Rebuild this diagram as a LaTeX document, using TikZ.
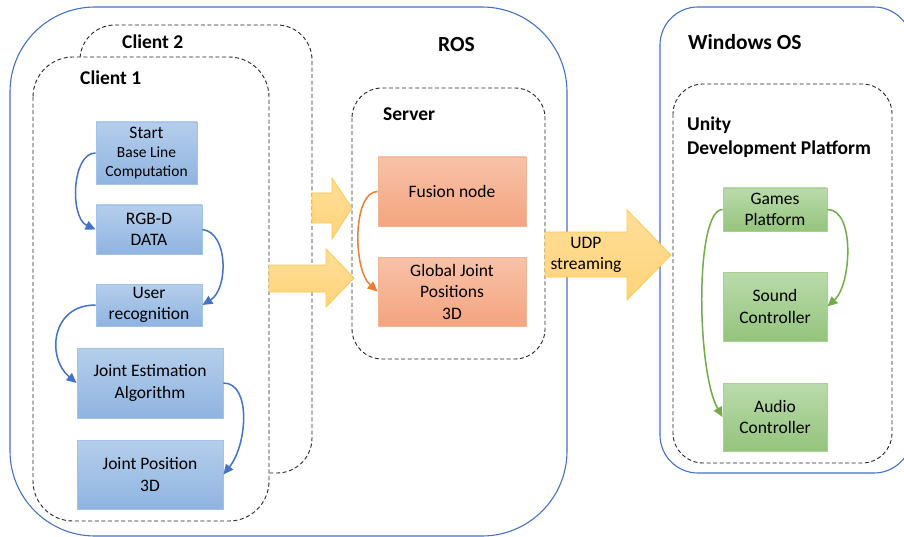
\documentclass[tikz,border=0pt]{standalone}
\usepackage{fontspec}
\setmainfont{Carlito}
\usetikzlibrary{arrows.meta}

\definecolor{frameblue}{HTML}{4472C4}
\definecolor{bluetop}{HTML}{B5CEEC}
\definecolor{bluebot}{HTML}{8FB4E0}
\definecolor{blueedge}{HTML}{A4C2E8}
\definecolor{orangetop}{HTML}{F8C2A9}
\definecolor{orangebot}{HTML}{F4A47F}
\definecolor{orangeedge}{HTML}{F4B595}
\definecolor{orangeline}{HTML}{ED7D31}
\definecolor{greentop}{HTML}{BADBAC}
\definecolor{greenbot}{HTML}{94C47C}
\definecolor{greenedge}{HTML}{A8D08F}
\definecolor{greenline}{HTML}{70AD47}
\definecolor{yellowtop}{HTML}{FFDE98}
\definecolor{yellowbot}{HTML}{FFD47A}
\definecolor{yellowedge}{HTML}{FFC84D}

% smaller type for the sub-lines of the start box
\newcommand\subsize{\fontsize{15.5}{18}\selectfont}

\tikzset{
  txt/.style={font=\fontsize{17.5}{21.5}\selectfont, align=center, inner sep=0pt},
  label/.style={font=\fontsize{19.5}{24}\selectfont\bfseries, anchor=base west, inner sep=0pt},
  biglabel/.style={font=\fontsize{21.5}{26}\selectfont\bfseries, anchor=base west, inner sep=0pt},
  outerbox/.style={draw=frameblue, line width=1.1pt, fill=white},
  groupbox/.style={draw=black!85, line width=0.9pt, dash pattern=on 4pt off 2.6pt, fill=white},
  bluebox/.style={txt, draw=blueedge, line width=0.8pt, top color=bluetop, bottom color=bluebot},
  orangebox/.style={txt, draw=orangeedge, line width=0.8pt, top color=orangetop, bottom color=orangebot},
  greenbox/.style={txt, draw=greenedge, line width=0.8pt, top color=greentop, bottom color=greenbot},
  flow/.style={line width=1.5pt, -{Triangle[length=10pt,width=9pt]}},
  bflow/.style={flow, draw=frameblue},
  oflow/.style={flow, draw=orangeline},
  gflow/.style={flow, draw=greenline},
  blockarrow/.style={draw=yellowedge, line width=0.8pt, top color=yellowtop, bottom color=yellowbot, line join=miter},
}

\begin{document}
\begin{tikzpicture}[x=1pt, y=-1pt]
\useasboundingbox (0,0) rectangle (904,537);

% outer platforms
\draw[outerbox, rounded corners=85pt] (10,7) rectangle (567,536);
\draw[outerbox, rounded corners=38pt] (660,7) rectangle (912,473);
\node[biglabel] (ros) at (438,52) {ROS};
\node[biglabel] (win) at (688,50) {Windows OS};

% client groups (client 2 sits behind client 1)
\draw[groupbox, rounded corners=35pt] (80,25) rectangle (312,473);
\draw[groupbox, rounded corners=40pt] (33,57) rectangle (269,521);
\node[label] (c2) at (122,48.5) {Client 2};
\node[label] (c1) at (80,85) {Client 1};

% server and unity groups
\draw[groupbox, rounded corners=30pt] (352,88) rectangle (545,359);
\node[label] (srv) at (383,121) {Server};
\draw[groupbox, rounded corners=30pt] (673,84) rectangle (892,463);
\node[label, align=left, anchor=north west] (unity) at (687,117) {Unity\\[-0.5pt]Development Platform};

% client pipeline
\node[bluebox, minimum width=101pt, minimum height=62pt] (start) at (146.5,153)
  {Start\\[-2pt]{\subsize Base Line}\\[-3pt]{\subsize Computation}};
\node[bluebox, minimum width=106pt, minimum height=49pt] (rgb) at (149,229.5) {RGB-D\\DATA};
\node[bluebox, minimum width=106pt, minimum height=42pt] (user) at (149,305) {User\\recognition};
\node[bluebox, minimum width=146pt, minimum height=70pt] (jest) at (150,383) {Joint Estimation\\Algorithm};
\node[bluebox, minimum width=146pt, minimum height=69pt] (jpos) at (150,474.5) {Joint Position\\3D};

\draw[bflow] (start.west) .. controls +(-24,0) and +(-26,-12) .. (rgb.west);
\draw[bflow] (rgb.east) .. controls +(26,3) and +(26,-16) .. (user.east);
\draw[bflow] (user.west) .. controls +(-45,0) and +(-30,-25) .. (jest.west);
\draw[bflow] (jest.east) .. controls +(28,0) and +(24,-30) .. (jpos.east);

% server nodes
\node[orangebox, minimum width=148pt, minimum height=69pt] (fusion) at (452,191.5) {Fusion node};
\node[orangebox, minimum width=148pt, minimum height=69pt] (global) at (452,291.5) {Global Joint\\Positions\\3D};
\draw[oflow] (fusion.west) .. controls +(-25,0) and +(-25,-22) .. (global.west);

% unity nodes
\node[greenbox, minimum width=104pt, minimum height=43pt] (games) at (775,209.5) {Games\\Platform};
\node[greenbox, minimum width=104pt, minimum height=69pt] (sound) at (775,306.5) {Sound\\Controller};
\node[greenbox, minimum width=104pt, minimum height=68pt] (audio) at (775,417) {Audio\\Controller};
\draw[gflow] (games.east) .. controls +(28,0) and +(24,-22) .. (sound.east);
\draw[gflow] (games.west) .. controls +(-28,0) and +(-26,-45) .. (audio.west);

% data transfer block arrows
\draw[blockarrow] (312,193) -- (332,193) -- (332,178) -- (352,208) -- (332,239) -- (332,223) -- (312,223) -- cycle;
\draw[blockarrow] (269,265) -- (326,265) -- (326,249) -- (354,278) -- (326,307) -- (326,292) -- (269,292) -- cycle;
\draw[blockarrow] (545,232) -- (627,232) -- (627,210) -- (671,255) -- (627,300) -- (627,277) -- (545,277) -- cycle;
\node[txt] (udp) at (586,255) {UDP\\streaming};
\end{tikzpicture}
\end{document}
